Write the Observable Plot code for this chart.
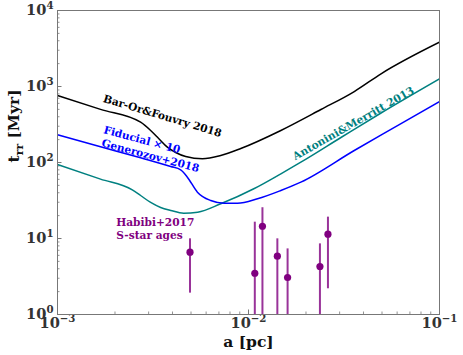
<!DOCTYPE html>
<html><head><meta charset="utf-8">
<script src="https://cdn.jsdelivr.net/npm/d3@7"></script>
<script src="https://cdn.jsdelivr.net/npm/@observablehq/plot@0.6"></script>
<style>body{margin:0;background:#fff;} #chart svg{display:block;}</style>
</head><body><div id="chart"></div>
<script>
// ---- data ----
const barOrA = [0.001, 0.00168, 0.002723, 0.003074, 0.003385, 0.003759, 0.004157, 0.00469, 0.005739, 0.007156, 0.009112, 0.01477, 0.023935, 0.035787, 0.049415, 0.1];
const barOrT = [761, 500, 339, 264, 207, 159, 135.4, 120, 112, 123.6, 152.8, 264, 498, 859, 1469, 3827];

const fidA = [0.001, 0.00168, 0.002723, 0.003915, 0.004416, 0.004787, 0.005402, 0.006343, 0.007448, 0.008756, 0.011147, 0.01477, 0.018797, 0.035787, 0.062878, 0.1];
const fidT = [231.5, 160.9, 115.3, 88.6, 80.1, 64.1, 40.7, 31.6, 29.1, 29.1, 33.3, 42.8, 55.1, 143.8, 324, 635];

const amA = [0.001, 0.00168, 0.002464, 0.002723, 0.003074, 0.003468, 0.003915, 0.004578, 0.005421, 0.007156, 0.010661, 0.01477, 0.018797, 0.030479, 0.049415, 0.1];
const amT = [94.1, 60.5, 43.7, 36.8, 29.8, 25.6, 23.4, 21.5, 22.2, 28.6, 45.1, 71.0, 100.9, 213.3, 448, 1262];

const habibiA  = [0.00494, 0.01079, 0.01183, 0.01416, 0.01602, 0.02366, 0.02606];
const habibiT  = [6.6, 3.49, 14.5, 5.85, 3.07, 4.28, 11.4];
const habibiLo = [1.91, 0.5, 0.5, 0.5, 0.5, 0.5, 2.18];
const habibiHi = [9.9, 16.4, 25.4, 9.9, 7.3, 8.5, 19.1];

const xTickVals = [1e-3, 1e-2, 1e-1];
const xTickLabels = ["10^{\u22123}", "10^{\u22122}", "10^{\u22121}"];
const yTickVals = [1, 10, 100, 1000, 10000];
const yTickLabels = ["10^{0}", "10^{1}", "10^{2}", "10^{3}", "10^{4}"];

const xLabel = "a [pc]";
const yLabel = "t_{rr} [Myr]";

// ---- build ----
const toRows = (xs, ys) => xs.map((a, i) => ({a, t: ys[i]}));
const habibi = habibiA.map((a, i) => ({a, t: habibiT[i], lo: habibiLo[i], hi: habibiHi[i]}));

const W = 463, H = 355, mL = 57, mR = 24, mT = 10, mB = 41;
const PW = W - mL - mR, PH = H - mT - mB;
const xMinor = d3.scaleLog().domain([1e-3, 1e-1]).ticks();
const yMinor = d3.scaleLog().domain([1, 1e4]).ticks();
const FONT = "DejaVu Serif";
const AX = "#777";

const chart = Plot.plot({
  width: W, height: H,
  marginLeft: mL, marginRight: mR, marginTop: mT, marginBottom: mB,
  style: {background: "#fff", fontFamily: FONT},
  x: {type: "log", domain: [1e-3, 1e-1], axis: null},
  y: {type: "log", domain: [1, 1e4], axis: null},
  marks: [
    // ticks (inward)
    Plot.tickY(yMinor, {stroke: AX, strokeWidth: 0.8, insetRight: PW - 2.5}),
    Plot.tickY(yTickVals, {stroke: AX, strokeWidth: 1, insetRight: PW - 4.5}),
    Plot.tickX(xMinor, {stroke: AX, strokeWidth: 0.8, insetTop: PH - 2.5}),
    Plot.tickX(xTickVals, {stroke: AX, strokeWidth: 1, insetTop: PH - 4.5}),
    // curves
    Plot.line(toRows(amA, amT), {x: "a", y: "t", stroke: "#008080", strokeWidth: 1.5, curve: "monotone-x", clip: true}),
    Plot.line(toRows(fidA, fidT), {x: "a", y: "t", stroke: "#0000ff", strokeWidth: 1.5, curve: "monotone-x", clip: true}),
    Plot.line(toRows(barOrA, barOrT), {x: "a", y: "t", stroke: "#000", strokeWidth: 1.5, curve: "monotone-x", clip: true}),
    // Habibi points
    Plot.ruleX(habibi, {x: "a", y1: "lo", y2: "hi", stroke: "#800080", strokeOpacity: 0.8, strokeWidth: 2, clip: true}),
    Plot.dot(habibi, {x: "a", y: "t", r: 3.6, fill: "#800080", stroke: "none"}),
    // annotations
    Plot.text(["Bar-Or&Fouvry 2018"], {x: 0.003545, y: 408, rotate: 16.7, fill: "#000", fontSize: 10.6, fontWeight: "bold", fontFamily: FONT}),
    Plot.text(["Fiducial \u00d7 10"], {x: 0.002767, y: 198, rotate: 15, fill: "#0000ff", fontSize: 10.6, fontWeight: "bold", fontFamily: FONT}),
    Plot.text(["Generozov+2018"], {x: 0.003066, y: 122.5, rotate: 15, fill: "#0000ff", fontSize: 10.6, fontWeight: "bold", fontFamily: FONT}),
    Plot.text(["Antonini&Merritt 2013"], {x: 0.03545, y: 326, rotate: -29.5, fill: "#008080", fontSize: 10.6, fontWeight: "bold", fontFamily: FONT}),
    Plot.text(["Habibi+2017"], {x: 0.00203, y: 15.95, textAnchor: "start", fill: "#800080", fontSize: 10.6, fontWeight: "bold", fontFamily: FONT}),
    Plot.text(["S-star ages"], {x: 0.00203, y: 10.98, textAnchor: "start", fill: "#800080", fontSize: 10.6, fontWeight: "bold", fontFamily: FONT}),
    // tick labels
    Plot.text(yTickLabels, {y: yTickVals, frameAnchor: "left", dx: -4, textAnchor: "end", lineAnchor: "middle", fill: "#333", fontSize: 14.6, fontWeight: "bold", fontFamily: FONT}),
    Plot.text(xTickLabels, {x: xTickVals, frameAnchor: "bottom", dy: 3, lineAnchor: "top", fill: "#333", fontSize: 14.6, fontWeight: "bold", fontFamily: FONT}),
    // axis labels
    Plot.text([xLabel], {frameAnchor: "bottom", dy: 21, lineAnchor: "top", fill: "#111", fontSize: 15.5, fontWeight: "bold", fontFamily: FONT}),
    Plot.text([yLabel], {frameAnchor: "left", dx: -43.5, rotate: -90, lineAnchor: "middle", fill: "#111", fontSize: 15.5, fontWeight: "bold", fontFamily: FONT}),
    Plot.frame({stroke: AX, strokeWidth: 1})
  ]
});

// super/subscripts as real tspans
function richText(el) {
  const s = el.textContent;
  const re = /([\^_])\{([^}]*)\}/g;
  if (!/[\^_]\{/.test(s)) return;
  const holder = el.closest("[font-size]");
  const fs = holder ? parseFloat(holder.getAttribute("font-size")) : 12;
  const sel = d3.select(el);
  sel.text(null);
  let last = 0, shift = 0, m;
  const add = (str, size, dy) => {
    const t = sel.append("tspan").text(str).attr("font-size", size);
    if (dy) t.attr("dy", dy);
  };
  while ((m = re.exec(s))) {
    if (m.index > last) { add(s.slice(last, m.index), fs, -shift); shift = 0; }
    const d = m[1] === "^" ? -0.42 * fs : 0.28 * fs;
    add(m[2], 0.7 * fs, d - shift);
    shift = d;
    last = re.lastIndex;
  }
  if (last < s.length) add(s.slice(last), fs, -shift);
}
chart.querySelectorAll("text").forEach(richText);
document.getElementById("chart").appendChild(chart);
</script>
</body></html>
